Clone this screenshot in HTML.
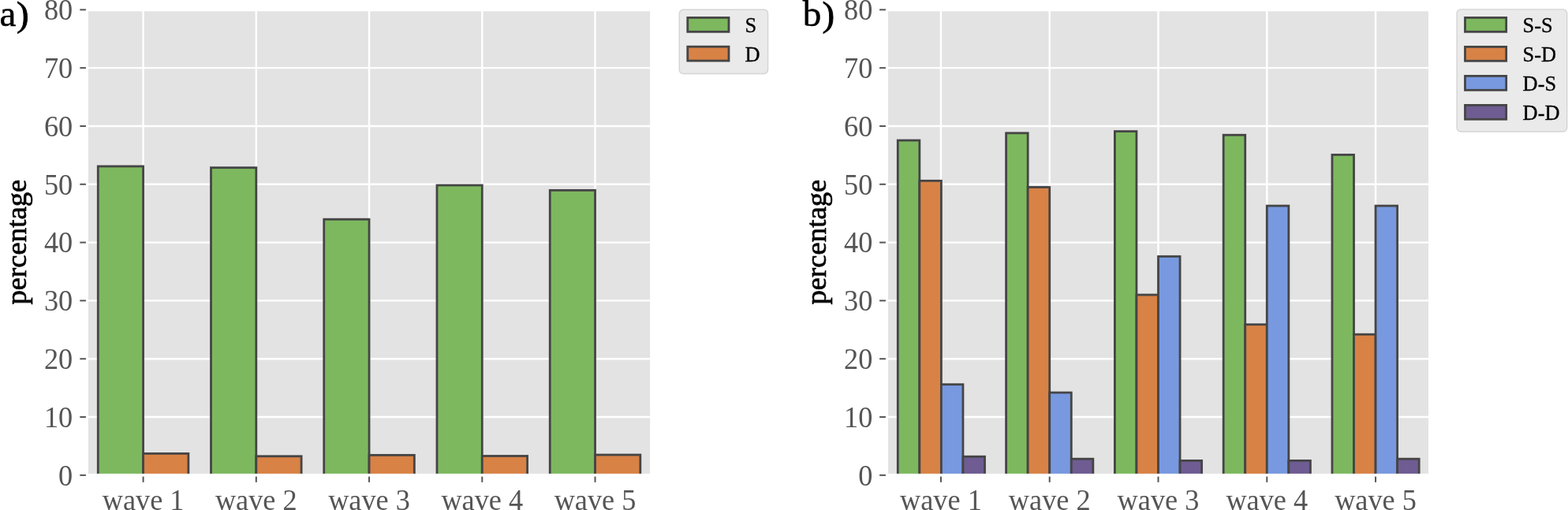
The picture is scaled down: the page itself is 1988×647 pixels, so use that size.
<!DOCTYPE html>
<html><head><meta charset="utf-8"><style>
html,body{margin:0;padding:0;background:#fff;}
svg{display:block;}
text{font-family:"Liberation Serif", "Times New Roman", serif;}
.tk{font-size:36.3px;fill:#555555;}
.yl{font-size:36.7px;fill:#000;stroke:#000;stroke-width:0.7px;}
.pl{font-size:47px;fill:#000;stroke:#000;stroke-width:0.5px;}
.lg{font-size:26.4px;fill:#000;stroke:#000;stroke-width:0.35px;}
.pp{stroke:#000;stroke-width:0.9px;}
</style></head><body>
<svg width="1988" height="647" viewBox="0 0 1988 647">
<rect width="1988" height="647" fill="#fff"/>
<rect x="109.95" y="12.35" width="716.2" height="590.5" fill="#e3e3e3"/>
<line x1="109.95" x2="826.15" y1="529.04" y2="529.04" stroke="#fff" stroke-width="2.4"/>
<line x1="109.95" x2="826.15" y1="455.23" y2="455.23" stroke="#fff" stroke-width="2.4"/>
<line x1="109.95" x2="826.15" y1="381.41" y2="381.41" stroke="#fff" stroke-width="2.4"/>
<line x1="109.95" x2="826.15" y1="307.6" y2="307.6" stroke="#fff" stroke-width="2.4"/>
<line x1="109.95" x2="826.15" y1="233.79" y2="233.79" stroke="#fff" stroke-width="2.4"/>
<line x1="109.95" x2="826.15" y1="159.98" y2="159.98" stroke="#fff" stroke-width="2.4"/>
<line x1="109.95" x2="826.15" y1="86.16" y2="86.16" stroke="#fff" stroke-width="2.4"/>
<line x1="181.57" x2="181.57" y1="12.35" y2="602.85" stroke="#fff" stroke-width="2.4"/>
<line x1="324.81" x2="324.81" y1="12.35" y2="602.85" stroke="#fff" stroke-width="2.4"/>
<line x1="468.05" x2="468.05" y1="12.35" y2="602.85" stroke="#fff" stroke-width="2.4"/>
<line x1="611.29" x2="611.29" y1="12.35" y2="602.85" stroke="#fff" stroke-width="2.4"/>
<line x1="754.53" x2="754.53" y1="12.35" y2="602.85" stroke="#fff" stroke-width="2.4"/>
<rect x="124.27" y="210.98" width="57.3" height="391.87" fill="#7db85f" stroke="#454545" stroke-width="2.8"/>
<rect x="181.57" y="575.39" width="57.3" height="27.46" fill="#d88246" stroke="#454545" stroke-width="2.8"/>
<rect x="267.51" y="212.68" width="57.3" height="390.17" fill="#7db85f" stroke="#454545" stroke-width="2.8"/>
<rect x="324.81" y="578.79" width="57.3" height="24.06" fill="#d88246" stroke="#454545" stroke-width="2.8"/>
<rect x="410.75" y="278.22" width="57.3" height="324.63" fill="#7db85f" stroke="#454545" stroke-width="2.8"/>
<rect x="468.05" y="577.38" width="57.3" height="25.47" fill="#d88246" stroke="#454545" stroke-width="2.8"/>
<rect x="553.99" y="234.97" width="57.3" height="367.88" fill="#7db85f" stroke="#454545" stroke-width="2.8"/>
<rect x="611.29" y="578.49" width="57.3" height="24.36" fill="#d88246" stroke="#454545" stroke-width="2.8"/>
<rect x="697.23" y="241.39" width="57.3" height="361.46" fill="#7db85f" stroke="#454545" stroke-width="2.8"/>
<rect x="754.53" y="577.02" width="57.3" height="25.83" fill="#d88246" stroke="#454545" stroke-width="2.8"/>
<rect x="108" y="10.4" width="720.1" height="3.9" fill="#fff"/>
<rect x="108" y="600.9" width="720.1" height="5.4" fill="#fff"/>
<rect x="108" y="10.4" width="3.9" height="594.4" fill="#fff"/>
<rect x="824.2" y="10.4" width="3.9" height="594.4" fill="#fff"/>
<line x1="101.3" x2="108.9" y1="602.85" y2="602.85" stroke="#555555" stroke-width="2"/>
<text transform="translate(92.2,615.65) scale(1,1.04)" text-anchor="end" class="tk">0</text>
<line x1="101.3" x2="108.9" y1="529.04" y2="529.04" stroke="#555555" stroke-width="2"/>
<text transform="translate(92.2,541.84) scale(1,1.04)" text-anchor="end" class="tk">10</text>
<line x1="101.3" x2="108.9" y1="455.23" y2="455.23" stroke="#555555" stroke-width="2"/>
<text transform="translate(92.2,468.03) scale(1,1.04)" text-anchor="end" class="tk">20</text>
<line x1="101.3" x2="108.9" y1="381.41" y2="381.41" stroke="#555555" stroke-width="2"/>
<text transform="translate(92.2,394.21) scale(1,1.04)" text-anchor="end" class="tk">30</text>
<line x1="101.3" x2="108.9" y1="307.6" y2="307.6" stroke="#555555" stroke-width="2"/>
<text transform="translate(92.2,320.4) scale(1,1.04)" text-anchor="end" class="tk">40</text>
<line x1="101.3" x2="108.9" y1="233.79" y2="233.79" stroke="#555555" stroke-width="2"/>
<text transform="translate(92.2,246.59) scale(1,1.04)" text-anchor="end" class="tk">50</text>
<line x1="101.3" x2="108.9" y1="159.98" y2="159.98" stroke="#555555" stroke-width="2"/>
<text transform="translate(92.2,172.78) scale(1,1.04)" text-anchor="end" class="tk">60</text>
<line x1="101.3" x2="108.9" y1="86.16" y2="86.16" stroke="#555555" stroke-width="2"/>
<text transform="translate(92.2,98.96) scale(1,1.04)" text-anchor="end" class="tk">70</text>
<line x1="101.3" x2="108.9" y1="12.35" y2="12.35" stroke="#555555" stroke-width="2"/>
<text transform="translate(92.2,25.15) scale(1,1.04)" text-anchor="end" class="tk">80</text>
<line x1="181.57" x2="181.57" y1="604.6" y2="611.8" stroke="#555555" stroke-width="2"/>
<text transform="translate(181.57,646.6) scale(1,1.04)" text-anchor="middle" class="tk">wave 1</text>
<line x1="324.81" x2="324.81" y1="604.6" y2="611.8" stroke="#555555" stroke-width="2"/>
<text transform="translate(324.81,646.6) scale(1,1.04)" text-anchor="middle" class="tk">wave 2</text>
<line x1="468.05" x2="468.05" y1="604.6" y2="611.8" stroke="#555555" stroke-width="2"/>
<text transform="translate(468.05,646.6) scale(1,1.04)" text-anchor="middle" class="tk">wave 3</text>
<line x1="611.29" x2="611.29" y1="604.6" y2="611.8" stroke="#555555" stroke-width="2"/>
<text transform="translate(611.29,646.6) scale(1,1.04)" text-anchor="middle" class="tk">wave 4</text>
<line x1="754.53" x2="754.53" y1="604.6" y2="611.8" stroke="#555555" stroke-width="2"/>
<text transform="translate(754.53,646.6) scale(1,1.04)" text-anchor="middle" class="tk">wave 5</text>
<text transform="translate(32.9,307.1) rotate(-90)" text-anchor="middle" class="yl">percentage</text>
<rect x="1124.05" y="12.35" width="688.9" height="590.5" fill="#e3e3e3"/>
<line x1="1124.05" x2="1812.95" y1="529.04" y2="529.04" stroke="#fff" stroke-width="2.4"/>
<line x1="1124.05" x2="1812.95" y1="455.23" y2="455.23" stroke="#fff" stroke-width="2.4"/>
<line x1="1124.05" x2="1812.95" y1="381.41" y2="381.41" stroke="#fff" stroke-width="2.4"/>
<line x1="1124.05" x2="1812.95" y1="307.6" y2="307.6" stroke="#fff" stroke-width="2.4"/>
<line x1="1124.05" x2="1812.95" y1="233.79" y2="233.79" stroke="#fff" stroke-width="2.4"/>
<line x1="1124.05" x2="1812.95" y1="159.98" y2="159.98" stroke="#fff" stroke-width="2.4"/>
<line x1="1124.05" x2="1812.95" y1="86.16" y2="86.16" stroke="#fff" stroke-width="2.4"/>
<line x1="1192.94" x2="1192.94" y1="12.35" y2="602.85" stroke="#fff" stroke-width="2.4"/>
<line x1="1330.72" x2="1330.72" y1="12.35" y2="602.85" stroke="#fff" stroke-width="2.4"/>
<line x1="1468.5" x2="1468.5" y1="12.35" y2="602.85" stroke="#fff" stroke-width="2.4"/>
<line x1="1606.28" x2="1606.28" y1="12.35" y2="602.85" stroke="#fff" stroke-width="2.4"/>
<line x1="1744.06" x2="1744.06" y1="12.35" y2="602.85" stroke="#fff" stroke-width="2.4"/>
<rect x="1138.28" y="178.06" width="27.56" height="424.79" fill="#7db85f" stroke="#454545" stroke-width="2.8"/>
<rect x="1165.83" y="229.36" width="27.56" height="373.49" fill="#d88246" stroke="#454545" stroke-width="2.8"/>
<rect x="1193.39" y="487.7" width="27.56" height="115.15" fill="#7899e0" stroke="#454545" stroke-width="2.8"/>
<rect x="1220.95" y="579.23" width="27.56" height="23.62" fill="#6f5c92" stroke="#454545" stroke-width="2.8"/>
<rect x="1275.61" y="168.83" width="27.56" height="434.02" fill="#7db85f" stroke="#454545" stroke-width="2.8"/>
<rect x="1303.16" y="237.48" width="27.56" height="365.37" fill="#d88246" stroke="#454545" stroke-width="2.8"/>
<rect x="1330.72" y="498.04" width="27.56" height="104.81" fill="#7899e0" stroke="#454545" stroke-width="2.8"/>
<rect x="1358.28" y="582.18" width="27.56" height="20.67" fill="#6f5c92" stroke="#454545" stroke-width="2.8"/>
<rect x="1413.39" y="166.62" width="27.56" height="436.23" fill="#7db85f" stroke="#454545" stroke-width="2.8"/>
<rect x="1440.94" y="374.03" width="27.56" height="228.82" fill="#d88246" stroke="#454545" stroke-width="2.8"/>
<rect x="1468.5" y="325.31" width="27.56" height="277.54" fill="#7899e0" stroke="#454545" stroke-width="2.8"/>
<rect x="1496.06" y="584.4" width="27.56" height="18.45" fill="#6f5c92" stroke="#454545" stroke-width="2.8"/>
<rect x="1551.17" y="171.27" width="27.56" height="431.58" fill="#7db85f" stroke="#454545" stroke-width="2.8"/>
<rect x="1578.72" y="411.68" width="27.56" height="191.17" fill="#d88246" stroke="#454545" stroke-width="2.8"/>
<rect x="1606.28" y="261.1" width="27.56" height="341.75" fill="#7899e0" stroke="#454545" stroke-width="2.8"/>
<rect x="1633.84" y="584.4" width="27.56" height="18.45" fill="#6f5c92" stroke="#454545" stroke-width="2.8"/>
<rect x="1688.95" y="196.36" width="27.56" height="406.49" fill="#7db85f" stroke="#454545" stroke-width="2.8"/>
<rect x="1716.5" y="424.22" width="27.56" height="178.63" fill="#d88246" stroke="#454545" stroke-width="2.8"/>
<rect x="1744.06" y="261.1" width="27.56" height="341.75" fill="#7899e0" stroke="#454545" stroke-width="2.8"/>
<rect x="1771.62" y="582.18" width="27.56" height="20.67" fill="#6f5c92" stroke="#454545" stroke-width="2.8"/>
<rect x="1122.1" y="10.4" width="692.8" height="3.9" fill="#fff"/>
<rect x="1122.1" y="600.9" width="692.8" height="5.4" fill="#fff"/>
<rect x="1122.1" y="10.4" width="3.9" height="594.4" fill="#fff"/>
<rect x="1811" y="10.4" width="3.9" height="594.4" fill="#fff"/>
<line x1="1115.1" x2="1122.9" y1="602.85" y2="602.85" stroke="#555555" stroke-width="2"/>
<text transform="translate(1106.4,615.65) scale(1,1.04)" text-anchor="end" class="tk">0</text>
<line x1="1115.1" x2="1122.9" y1="529.04" y2="529.04" stroke="#555555" stroke-width="2"/>
<text transform="translate(1106.4,541.84) scale(1,1.04)" text-anchor="end" class="tk">10</text>
<line x1="1115.1" x2="1122.9" y1="455.23" y2="455.23" stroke="#555555" stroke-width="2"/>
<text transform="translate(1106.4,468.03) scale(1,1.04)" text-anchor="end" class="tk">20</text>
<line x1="1115.1" x2="1122.9" y1="381.41" y2="381.41" stroke="#555555" stroke-width="2"/>
<text transform="translate(1106.4,394.21) scale(1,1.04)" text-anchor="end" class="tk">30</text>
<line x1="1115.1" x2="1122.9" y1="307.6" y2="307.6" stroke="#555555" stroke-width="2"/>
<text transform="translate(1106.4,320.4) scale(1,1.04)" text-anchor="end" class="tk">40</text>
<line x1="1115.1" x2="1122.9" y1="233.79" y2="233.79" stroke="#555555" stroke-width="2"/>
<text transform="translate(1106.4,246.59) scale(1,1.04)" text-anchor="end" class="tk">50</text>
<line x1="1115.1" x2="1122.9" y1="159.98" y2="159.98" stroke="#555555" stroke-width="2"/>
<text transform="translate(1106.4,172.78) scale(1,1.04)" text-anchor="end" class="tk">60</text>
<line x1="1115.1" x2="1122.9" y1="86.16" y2="86.16" stroke="#555555" stroke-width="2"/>
<text transform="translate(1106.4,98.96) scale(1,1.04)" text-anchor="end" class="tk">70</text>
<line x1="1115.1" x2="1122.9" y1="12.35" y2="12.35" stroke="#555555" stroke-width="2"/>
<text transform="translate(1106.4,25.15) scale(1,1.04)" text-anchor="end" class="tk">80</text>
<line x1="1192.94" x2="1192.94" y1="604.6" y2="611.8" stroke="#555555" stroke-width="2"/>
<text transform="translate(1192.94,646.6) scale(1,1.04)" text-anchor="middle" class="tk">wave 1</text>
<line x1="1330.72" x2="1330.72" y1="604.6" y2="611.8" stroke="#555555" stroke-width="2"/>
<text transform="translate(1330.72,646.6) scale(1,1.04)" text-anchor="middle" class="tk">wave 2</text>
<line x1="1468.5" x2="1468.5" y1="604.6" y2="611.8" stroke="#555555" stroke-width="2"/>
<text transform="translate(1468.5,646.6) scale(1,1.04)" text-anchor="middle" class="tk">wave 3</text>
<line x1="1606.28" x2="1606.28" y1="604.6" y2="611.8" stroke="#555555" stroke-width="2"/>
<text transform="translate(1606.28,646.6) scale(1,1.04)" text-anchor="middle" class="tk">wave 4</text>
<line x1="1744.06" x2="1744.06" y1="604.6" y2="611.8" stroke="#555555" stroke-width="2"/>
<text transform="translate(1744.06,646.6) scale(1,1.04)" text-anchor="middle" class="tk">wave 5</text>
<text transform="translate(1046.9,307.1) rotate(-90)" text-anchor="middle" class="yl">percentage</text>
<text x="-0.6" y="33.2" class="pl">a</text><text transform="translate(20.97,33.1) scale(1,0.938)" class="pl pp">)</text>
<text x="1017.85" y="33.2" class="pl">b</text><text transform="translate(1042.5,33.1) scale(1,0.938)" class="pl pp">)</text>
<rect x="861.3" y="12.3" width="112.3" height="81.25" rx="5" ry="5" fill="#eaeaea" stroke="#d4d4d4" stroke-width="1.4"/>
<rect x="871.8" y="22.4" width="52.2" height="17.9" fill="#7db85f" stroke="#454545" stroke-width="2.8"/>
<text transform="translate(944.6,41.4) scale(1,1.03)" class="lg">S</text>
<rect x="871.8" y="59.2" width="52.2" height="17.9" fill="#d88246" stroke="#454545" stroke-width="2.8"/>
<text transform="translate(944.6,78.2) scale(1,1.03)" class="lg">D</text>
<rect x="1847.1" y="11.9" width="139.6" height="155.1" rx="5" ry="5" fill="#eaeaea" stroke="#d4d4d4" stroke-width="1.4"/>
<rect x="1857.5" y="22.4" width="52.2" height="17.9" fill="#7db85f" stroke="#454545" stroke-width="2.8"/>
<text transform="translate(1930.6,41.4) scale(1,1.03)" class="lg">S-S</text>
<rect x="1857.5" y="59.4" width="52.2" height="17.9" fill="#d88246" stroke="#454545" stroke-width="2.8"/>
<text transform="translate(1930.6,78.4) scale(1,1.03)" class="lg">S-D</text>
<rect x="1857.5" y="96.4" width="52.2" height="17.9" fill="#7899e0" stroke="#454545" stroke-width="2.8"/>
<text transform="translate(1930.6,115.4) scale(1,1.03)" class="lg">D-S</text>
<rect x="1857.5" y="133.4" width="52.2" height="17.9" fill="#6f5c92" stroke="#454545" stroke-width="2.8"/>
<text transform="translate(1930.6,152.4) scale(1,1.03)" class="lg">D-D</text>
</svg>
</body></html>
